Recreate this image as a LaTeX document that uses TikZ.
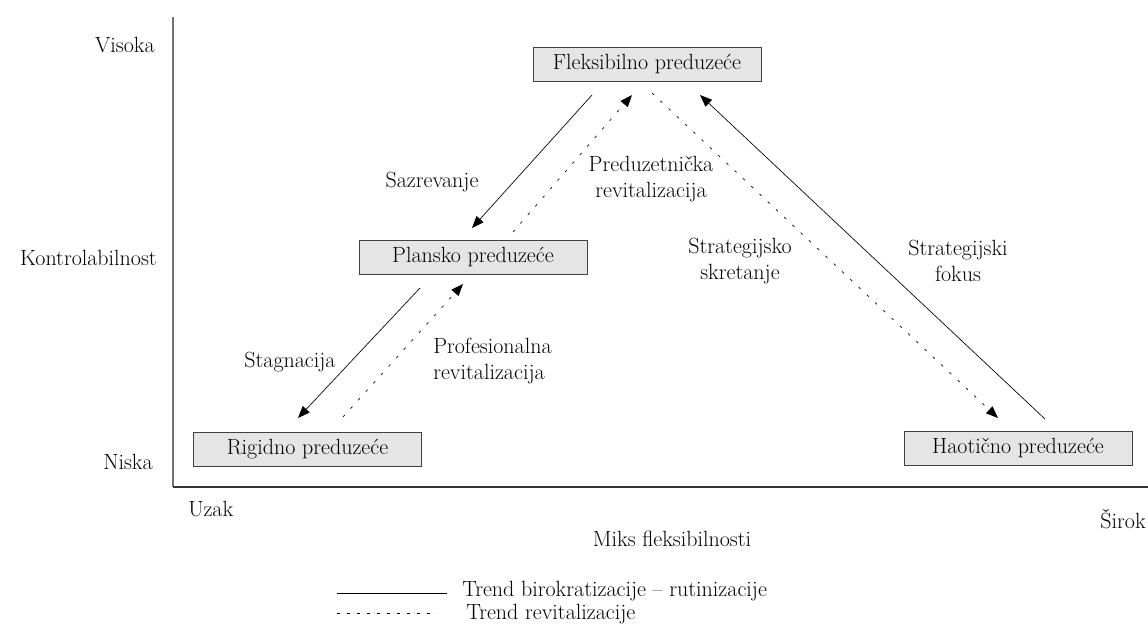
\documentclass[tikz,border=0pt]{standalone}
\usepackage{tikz}
\usetikzlibrary{arrows.meta}

\begin{document}
\begin{tikzpicture}[
    x=0.75pt, y=-0.75pt,
    every node/.style={font=\fontsize{16.5}{20}\selectfont, inner sep=0pt},
    box/.style={rectangle,draw=black!75,fill=black!10,line width=0.6pt,minimum width=171pt,minimum height=25.5pt},
    lbl/.style={align=center},
    solidtrend/.style={-{Triangle[length=9pt,width=7pt]}, line width=0.5pt},
    dashtrend/.style={-{Triangle[length=9pt,width=7pt]}, line width=0.5pt, dash pattern=on 2pt off 6.5pt}
]
\useasboundingbox (0,0) rectangle (1148,637);

% axes
\draw[black!55, line width=0.8pt] (173,17) -- (173,487);
\draw[black!80, line width=0.8pt] (173,487) -- (1148,487);

\node[anchor=east] (visoka) at (155,45) {Visoka};
\node[anchor=east] (kontrola) at (157,258) {Kontrolabilnost};
\node[anchor=east] (niska) at (153,462) {Niska};
\node[anchor=west] (uzak) at (188,509) {Uzak};
\node[anchor=east] (sirok) at (1146,519) {Širok};
\node (miks) at (672,539) {Miks fleksibilnosti};

% enterprises
\node[box] (fleks) at (647,64) {Fleksibilno preduzeće};
\node[box] (plansko) at (473,257) {Plansko preduzeće};
\node[box] (rigidno) at (307.5,449.5) {Rigidno preduzeće};
\node[box] (haoticno) at (1018,448) {Haotično preduzeće};

% arrow ends
\coordinate (saz-a) at (592,95);
\coordinate (saz-b) at (472,228);
\coordinate (pred-a) at (513,232);
\coordinate (pred-b) at (632,95);
\coordinate (skr-a) at (652,93);
\coordinate (skr-b) at (998,418);
\coordinate (fok-a) at (1045,419);
\coordinate (fok-b) at (700,95);
\coordinate (stag-a) at (420,288);
\coordinate (stag-b) at (298,418);
\coordinate (prof-a) at (343,417);
\coordinate (prof-b) at (463,284);

\draw[solidtrend] (saz-a) -- (saz-b);
\draw[dashtrend] (pred-a) -- (pred-b);
\draw[dashtrend] (skr-a) -- (skr-b);
\draw[solidtrend] (fok-a) -- (fok-b);
\draw[solidtrend] (stag-a) -- (stag-b);
\draw[dashtrend] (prof-a) -- (prof-b);

\node (sazrevanje) at (432,182) {Sazrevanje};
\node[lbl] (preduzetnicka) at (651,179) {Preduzetnička\\revitalizacija};
\node[lbl] (skretanje) at (740,261) {Strategijsko\\skretanje};
\node[lbl] (fokus) at (958,261) {Strategijski\\fokus};
\node (stagnacija) at (290,362) {Stagnacija};
\node[align=left, anchor=west] (profesionalna) at (433,361) {Profesionalna\\revitalizacija};

% legend
\coordinate (leg1-a) at (337,593);
\coordinate (leg1-b) at (447,593);
\coordinate (leg2-a) at (337,613);
\coordinate (leg2-b) at (437,613);
\draw[line width=0.6pt] (leg1-a) -- (leg1-b);
\draw[line width=0.6pt, dash pattern=on 2.5pt off 5pt] (leg2-a) -- (leg2-b);
\node[anchor=west] (leg1) at (462,591) {Trend birokratizacije -- rutinizacije};
\node[anchor=west] (leg2) at (466,614) {Trend revitalizacije};

\end{tikzpicture}
\end{document}
